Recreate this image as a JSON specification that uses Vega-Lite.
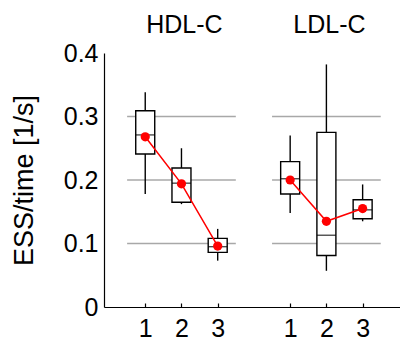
{
  "$schema": "https://vega.github.io/schema/vega-lite/v6.json",
  "width": 296,
  "height": 254,
  "autosize": "none",
  "padding": {"left": 104, "top": 53, "right": 0, "bottom": 33},
  "background": "white",
  "config": {
    "view": {"stroke": null},
    "font": "Liberation Sans",
    "axis": {"domainColor": "black", "domainWidth": 1.2, "labelColor": "black", "titleColor": "black", "grid": false, "labelFont": "Liberation Sans", "titleFont": "Liberation Sans"}
  },
  "datasets": {
    "boxes": [
      {"panel": "HDL-C", "x": 1, "wlo": 0.178, "q1": 0.241, "med": 0.271, "q3": 0.309, "whi": 0.338, "mean": 0.268},
      {"panel": "HDL-C", "x": 2, "wlo": 0.162, "q1": 0.165, "med": 0.195, "q3": 0.219, "whi": 0.250, "mean": 0.194},
      {"panel": "HDL-C", "x": 3, "wlo": 0.073, "q1": 0.086, "med": 0.095, "q3": 0.108, "whi": 0.123, "mean": 0.096},
      {"panel": "LDL-C", "x": 5, "wlo": 0.148, "q1": 0.178, "med": 0.202, "q3": 0.229, "whi": 0.270, "mean": 0.200},
      {"panel": "LDL-C", "x": 6, "wlo": 0.057, "q1": 0.081, "med": 0.113, "q3": 0.275, "whi": 0.382, "mean": 0.135},
      {"panel": "LDL-C", "x": 7, "wlo": 0.135, "q1": 0.139, "med": 0.153, "q3": 0.169, "whi": 0.193, "mean": 0.155}
    ],
    "grid": [
      {"panel": "HDL-C", "x0": 0.5, "x1": 3.5, "y": 0.1},
      {"panel": "HDL-C", "x0": 0.5, "x1": 3.5, "y": 0.2},
      {"panel": "HDL-C", "x0": 0.5, "x1": 3.5, "y": 0.3},
      {"panel": "LDL-C", "x0": 4.5, "x1": 7.5, "y": 0.1},
      {"panel": "LDL-C", "x0": 4.5, "x1": 7.5, "y": 0.2},
      {"panel": "LDL-C", "x0": 4.5, "x1": 7.5, "y": 0.3}
    ],
    "titles": [
      {"label": "HDL-C", "x": 2, "y": 0.432},
      {"label": "LDL-C", "x": 6, "y": 0.432}
    ]
  },
  "layer": [
    {
      "data": {"name": "grid"},
      "mark": {"type": "rule", "color": "#a8a8a8", "strokeWidth": 1.6},
      "encoding": {
        "x": {"field": "x0", "type": "quantitative", "scale": {"domain": [0, 7.8933], "nice": false, "zero": false},
              "axis": {"values": [1, 2, 3, 5, 6, 7], "labelExpr": "'' + (datum.value > 4 ? datum.value - 4 : datum.value)", "title": null, "labelFontSize": 25, "tickColor": "black", "tickSize": -4, "tickWidth": 1.2, "labelPadding": 13, "labelFlush": false}},
        "x2": {"field": "x1"},
        "y": {"field": "y", "type": "quantitative", "scale": {"domain": [0, 0.4], "nice": false},
              "axis": {"values": [0, 0.1, 0.2, 0.3, 0.4], "format": "~g", "ticks": false, "labelFontSize": 25, "labelPadding": 6, "title": "ESS/time [1/s]", "titleFontSize": 27, "titleFontWeight": "normal", "titlePadding": 25}}
      }
    },
    {
      "data": {"name": "boxes"},
      "mark": {"type": "rule", "color": "black", "strokeWidth": 1.4},
      "encoding": {
        "x": {"field": "x", "type": "quantitative"},
        "y": {"field": "wlo", "type": "quantitative"},
        "y2": {"field": "whi"}
      }
    },
    {
      "data": {"name": "boxes"},
      "mark": {"type": "bar", "width": 19, "fill": "white", "stroke": "black", "strokeWidth": 1.4},
      "encoding": {
        "x": {"field": "x", "type": "quantitative"},
        "y": {"field": "q1", "type": "quantitative"},
        "y2": {"field": "q3"}
      }
    },
    {
      "data": {"name": "boxes"},
      "mark": {"type": "tick", "orient": "horizontal", "size": 19, "thickness": 1.4, "color": "black"},
      "encoding": {
        "x": {"field": "x", "type": "quantitative"},
        "y": {"field": "med", "type": "quantitative"}
      }
    },
    {
      "data": {"name": "boxes"},
      "mark": {"type": "line", "color": "#ff0000", "strokeWidth": 1.5},
      "encoding": {
        "x": {"field": "x", "type": "quantitative"},
        "y": {"field": "mean", "type": "quantitative"},
        "detail": {"field": "panel"}
      }
    },
    {
      "data": {"name": "boxes"},
      "mark": {"type": "point", "filled": true, "color": "#ff0000", "opacity": 1, "size": 85},
      "encoding": {
        "x": {"field": "x", "type": "quantitative"},
        "y": {"field": "mean", "type": "quantitative"}
      }
    },
    {
      "data": {"name": "titles"},
      "mark": {"type": "text", "fontSize": 25, "baseline": "alphabetic", "align": "center", "dx": 3, "color": "black"},
      "encoding": {
        "x": {"field": "x", "type": "quantitative"},
        "y": {"field": "y", "type": "quantitative"},
        "text": {"field": "label"}
      }
    }
  ]
}
